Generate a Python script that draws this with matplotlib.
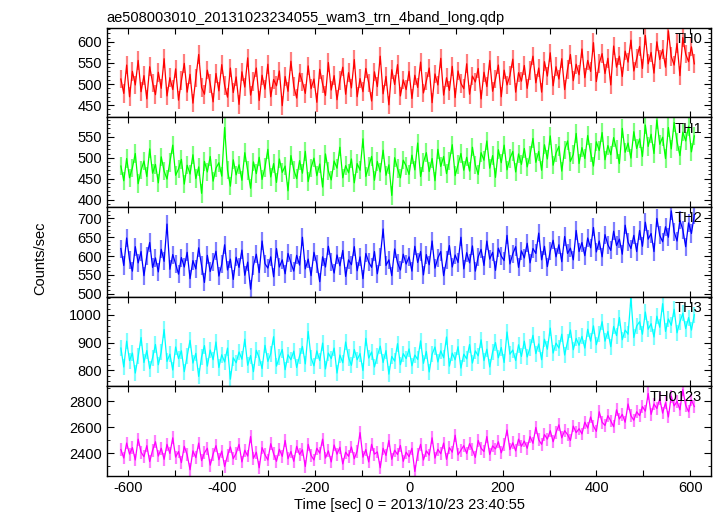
import numpy as np
import matplotlib
matplotlib.use('Agg')
import matplotlib.pyplot as plt
from matplotlib.ticker import MultipleLocator, FuncFormatter

plt.rcParams['font.family'] = ['Liberation Sans', 'DejaVu Sans']

# start time and bin width of the light curve (sec)
t_start = -615.0
t_bin = 6.15

th0 = [512, 478, 545, 470, 530, 498, 556, 482, 520, 465, 541, 503, 475, 528, 490, 560, 472, 515, 487, 536,
       462, 508, 549, 481, 523, 455, 514, 570, 492, 476, 533, 501, 458, 525, 484, 546, 497, 469, 538, 480,
       517, 452, 529, 493, 562, 474, 506, 538, 461, 521, 488, 547, 470, 511, 496, 531, 449, 518, 483, 554,
       495, 467, 526, 505, 478, 543, 489, 512, 457, 535, 500, 473, 551, 486, 520, 463, 508, 540, 476, 527,
       491, 558, 470, 513, 482, 537, 503, 460, 529, 494, 566, 477, 518, 451, 534, 499, 546, 472, 510, 487,
       530, 466, 521, 492, 552, 479, 507, 538, 456, 524, 498, 561, 474, 515, 485, 542, 468, 531, 502, 489,
       548, 476, 519, 505, 537, 465, 528, 494, 556, 483, 512, 545, 470, 533, 498, 520, 559, 481, 527, 507,
       544, 490, 532, 566, 503, 538, 481, 553, 519, 574, 496, 541, 512, 560, 487, 535, 570, 508, 547, 522,
       583, 515, 556, 530, 598, 506, 549, 572, 525, 561, 498, 590, 540, 566, 518, 578, 552, 604, 531, 560,
       589, 537, 615, 548, 575, 526, 600, 558, 582, 540, 626, 565, 545, 596, 520, 610, 571, 553, 588, 548]

th1 = [480, 445, 498, 452, 476, 510, 438, 470, 492, 455, 521, 463, 484, 440, 502, 468, 449, 489, 530, 458,
       473, 496, 437, 482, 461, 507, 450, 478, 415, 491, 466, 503, 444, 475, 488, 456, 572, 470, 432, 495,
       459, 483, 446, 512, 469, 427, 490, 462, 501, 448, 477, 520, 454, 486, 441, 497, 465, 480, 421, 505,
       471, 450, 493, 463, 515, 443, 476, 499, 457, 485, 430, 509, 468, 447, 492, 475, 525, 452, 481, 464,
       497, 440, 486, 470, 545, 455, 479, 503, 446, 491, 466, 518, 458, 483, 410, 500, 474, 452, 494, 480,
       460, 506, 471, 535, 455, 489, 512, 467, 498, 445, 520, 479, 503, 462, 492, 531, 457, 484, 510, 470,
       501, 468, 525, 483, 460, 512, 494, 540, 475, 505, 453, 519, 488, 530, 471, 498, 515, 466, 509, 484,
       522, 478, 507, 546, 489, 515, 470, 531, 497, 552, 482, 511, 527, 468, 519, 540, 491, 508, 558, 486,
       524, 498, 553, 512, 480, 538, 517, 560, 495, 529, 507, 548, 520, 486, 570, 513, 535, 499, 562, 522,
       545, 503, 578, 527, 556, 510, 590, 532, 549, 498, 572, 521, 584, 538, 505, 561, 540, 575, 514, 552]

th2 = [620, 575, 648, 590, 560, 625, 582, 612, 548, 600, 636, 570, 595, 558, 618, 586, 685, 565, 604, 579,
       552, 596, 571, 610, 540, 588, 566, 622, 575, 530, 602, 559, 585, 613, 547, 578, 630, 563, 592, 538,
       597, 570, 616, 549, 584, 512, 575, 605, 556, 640, 580, 568, 598, 545, 620, 571, 590, 553, 607, 582,
       560, 602, 576, 650, 566, 592, 548, 610, 579, 532, 598, 571, 626, 585, 555, 603, 574, 615, 546, 590,
       577, 625, 561, 598, 540, 607, 584, 570, 612, 553, 597, 672, 575, 590, 548, 619, 582, 563, 605, 579,
       598, 560, 626, 583, 612, 550, 604, 577, 640, 568, 595, 612, 548, 589, 628, 571, 603, 583, 650, 566,
       609, 582, 627, 560, 598, 618, 575, 640, 592, 610, 562, 621, 600, 588, 655, 579, 606, 625, 570, 614,
       595, 634, 582, 620, 607, 661, 590, 626, 572, 613, 642, 598, 630, 585, 652, 607, 621, 590, 668, 612,
       636, 601, 648, 622, 676, 611, 640, 598, 657, 630, 615, 666, 628, 645, 605, 682, 637, 620, 655, 612,
       668, 626, 690, 645, 660, 612, 700, 655, 638, 678, 650, 720, 664, 640, 695, 670, 625, 688, 660, 710]

th3 = [880, 812, 905, 835, 862, 790, 850, 918, 828, 871, 806, 845, 893, 820, 866, 947, 832, 858, 801, 884,
       842, 870, 795, 852, 908, 826, 861, 778, 848, 889, 815, 873, 838, 902, 810, 856, 830, 880, 768, 845,
       827, 866, 840, 912, 818, 853, 795, 872, 845, 806, 890, 832, 860, 921, 815, 848, 875, 802, 856, 838,
       869, 810, 851, 886, 823, 940, 845, 816, 870, 835, 898, 805, 862, 842, 880, 790, 855, 827, 902, 846,
       818, 875, 838, 860, 799, 915, 844, 866, 812, 852, 887, 828, 871, 786, 850, 833, 896, 820, 860, 842,
       877, 816, 855, 839, 906, 825, 868, 794, 858, 884, 830, 870, 845, 920, 815, 862, 838, 885, 808, 858,
       841, 893, 826, 870, 852, 910, 835, 876, 812, 866, 900, 845, 882, 828, 938, 858, 873, 835, 892, 850,
       905, 848, 882, 926, 860, 895, 838, 912, 876, 952, 862, 898, 880, 930, 855, 903, 945, 874, 915, 890,
       922, 880, 948, 905, 960, 892, 930, 975, 905, 940, 885, 958, 925, 990, 910, 945, 930, 1062, 918, 960,
       975, 930, 1010, 948, 968, 920, 995, 955, 1040, 940, 985, 962, 1020, 935, 975, 1005, 950, 990, 945, 1000]

th0123 = [2430, 2365, 2480, 2395, 2445, 2350, 2510, 2410, 2375, 2460, 2338, 2425, 2490, 2380, 2440, 2355, 2470, 2400, 2520, 2372,
          2415, 2330, 2455, 2390, 2275, 2420, 2368, 2480, 2345, 2405, 2440, 2310, 2395, 2460, 2352, 2418, 2300, 2385, 2450, 2360,
          2402, 2470, 2335, 2425, 2380, 2530, 2362, 2410, 2290, 2445, 2390, 2350, 2475, 2398, 2340, 2432, 2378, 2500, 2360, 2415,
          2340, 2455, 2392, 2428, 2300, 2470, 2385, 2350, 2440, 2402, 2510, 2365, 2420, 2335, 2465, 2395, 2448, 2320, 2410, 2378,
          2450, 2360, 2418, 2560, 2372, 2430, 2335, 2470, 2395, 2412, 2290, 2440, 2385, 2500, 2355, 2425, 2392, 2462, 2340, 2410,
          2375, 2440, 2262, 2395, 2470, 2350, 2420, 2388, 2520, 2365, 2432, 2398, 2480, 2355, 2445, 2410, 2540, 2390, 2425, 2460,
          2400, 2475, 2428, 2370, 2500, 2440, 2415, 2530, 2392, 2458, 2435, 2490, 2405, 2470, 2580, 2430, 2482, 2420, 2510, 2455,
          2495, 2440, 2530, 2478, 2600, 2505, 2470, 2545, 2510, 2575, 2490, 2560, 2620, 2520, 2575, 2545, 2500, 2610, 2560, 2590,
          2550, 2640, 2595, 2680, 2610, 2570, 2720, 2640, 2615, 2690, 2650, 2605, 2735, 2665, 2700, 2640, 2780, 2690, 2655, 2720,
          2690, 2760, 2725, 2860, 2700, 2780, 2745, 2820, 2710, 2790, 2680, 2840, 2765, 2800, 2735, 2890, 2770, 2720, 2810, 2760]

# typical 1-sigma error of each band (counts/sec)
errs = [22, 22, 24, 29, 49]

bands = ['TH0', 'TH1', 'TH2', 'TH3', 'TH0123']
series = [th0, th1, th2, th3, th0123]
colors = ['#ff0000', '#00ff00', '#0000ff', '#00ffff', '#ff00ff']
ylims = [(421, 633), (382, 596), (492, 730), (742, 1065), (2227, 2915)]
major = [50, 50, 50, 100, 200]
minor = [10, 10, 10, 20, 100]

fig, axes = plt.subplots(5, 1, sharex=True, figsize=(7.17, 5.16), dpi=100)
fig.subplots_adjust(left=0.149, right=0.992, top=0.946, bottom=0.0775, hspace=0)

for ax, name, vals, err, c, yl, mj, mn in zip(axes, bands, series, errs, colors, ylims, major, minor):
    t = t_start + t_bin * np.arange(len(vals))
    ax.errorbar(t, vals, yerr=err, fmt='none', ecolor=c, alpha=0.5, elinewidth=1.6, capsize=0)
    ax.plot(t, vals, color=c, lw=0.9)
    ax.set_ylim(yl)
    ax.set_xlim(-645, 645)
    ax.yaxis.set_major_locator(MultipleLocator(mj))
    ax.yaxis.set_minor_locator(MultipleLocator(mn))
    ax.xaxis.set_major_locator(MultipleLocator(100))
    ax.xaxis.set_major_formatter(FuncFormatter(lambda v, p: '%d' % v if int(round(v)) % 200 == 0 else ''))
    ax.tick_params(axis='both', which='both', direction='in', top=True, right=True, labelsize=10.5)
    ax.tick_params(axis='y', which='major', length=5, width=0.8)
    ax.tick_params(axis='y', which='minor', length=2.5, width=0.6)
    ax.tick_params(axis='x', which='major', length=4, width=0.8)
    for s in ax.spines.values():
        s.set_linewidth(1.0)
    ax.text(0.985, 0.955, name, transform=ax.transAxes, ha='right', va='top', fontsize=10.5)

axes[0].set_title('ae508003010_20131023234055_wam3_trn_4band_long.qdp', loc='left', fontsize=10.5, pad=4)
axes[-1].set_xlabel('Time [sec] 0 = 2013/10/23 23:40:55', fontsize=10.5, labelpad=2)
fig.text(0.056, 1 - 258 / 516, 'Counts/sec', rotation=90, ha='center', va='center', fontsize=10.5)

fig.savefig('out.png', dpi=100)
